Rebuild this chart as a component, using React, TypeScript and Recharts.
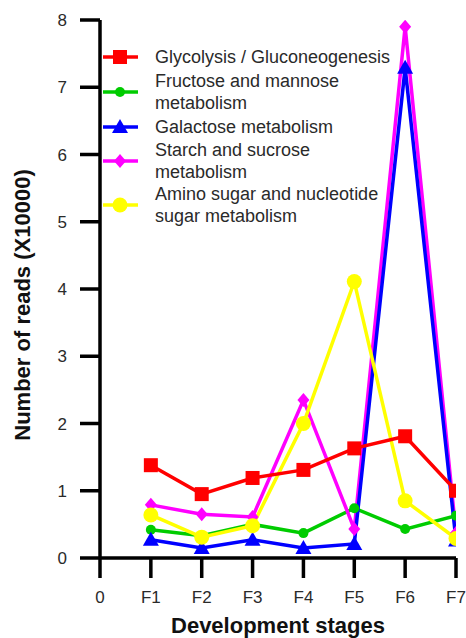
import React from 'react';
import { LineChart, Line, XAxis, YAxis, Legend, Label } from 'recharts';

const stages = [1, 2, 3, 4, 5, 6, 7];
const tickLabels = ['0', 'F1', 'F2', 'F3', 'F4', 'F5', 'F6', 'F7'];
const yTicks = [0, 1, 2, 3, 4, 5, 6, 7, 8];

const glycolysis = [1.38, 0.95, 1.19, 1.31, 1.63, 1.81, 1.0];
const fructose = [0.42, 0.33, 0.5, 0.37, 0.74, 0.43, 0.63];
const galactose = [0.27, 0.15, 0.27, 0.15, 0.21, 7.29, 0.26];
const starch = [0.79, 0.65, 0.61, 2.35, 0.43, 7.9, 0.37];
const aminoSugar = [0.64, 0.31, 0.48, 2.0, 4.11, 0.85, 0.29];

const data = stages.map((s, i) => ({
  stage: s,
  glycolysis: glycolysis[i],
  fructose: fructose[i],
  galactose: galactose[i],
  starch: starch[i],
  aminoSugar: aminoSugar[i],
}));

const FONT = '"Liberation Sans", Arial, sans-serif';

type Shape = 'square' | 'smallCircle' | 'triangle' | 'diamond' | 'bigCircle';

const Marker = ({ cx, cy, shape, color }: { cx: number; cy: number; shape: Shape; color: string }) => {
  if (shape === 'square') return <rect x={cx - 7} y={cy - 7} width={14} height={14} fill={color} />;
  if (shape === 'smallCircle') return <circle cx={cx} cy={cy} r={5} fill={color} />;
  if (shape === 'bigCircle') return <circle cx={cx} cy={cy} r={7.5} fill={color} />;
  if (shape === 'triangle')
    return <polygon points={`${cx},${cy - 8} ${cx + 8},${cy + 6} ${cx - 8},${cy + 6}`} fill={color} />;
  return <polygon points={`${cx},${cy - 7} ${cx + 6},${cy} ${cx},${cy + 7} ${cx - 6},${cy}`} fill={color} />;
};

const dotFor = (shape: Shape, color: string) => (props: any) => (
  <Marker key={`${shape}-${props.index}`} cx={props.cx} cy={props.cy} shape={shape} color={color} />
);

const legendItems = [
  { lines: ['Glycolysis / Gluconeogenesis'], shape: 'square' as Shape, color: '#ff0000', top: 1 },
  { lines: ['Fructose and mannose', 'metabolism'], shape: 'smallCircle' as Shape, color: '#00cc00', top: 25 },
  { lines: ['Galactose metabolism'], shape: 'triangle' as Shape, color: '#0000ff', top: 71 },
  { lines: ['Starch and sucrose', 'metabolism'], shape: 'diamond' as Shape, color: '#ff00ff', top: 94 },
  { lines: ['Amino sugar and nucleotide', 'sugar metabolism'], shape: 'bigCircle' as Shape, color: '#ffff00', top: 138 },
];

const CustomLegend = () => (
  <div style={{ position: 'relative', width: 320, height: 185, fontFamily: FONT }}>
    {legendItems.map((item) => {
      const h = item.lines.length * 22;
      return (
        <div key={item.lines[0]} style={{ position: 'absolute', left: 0, top: item.top, height: h, width: 320 }}>
          <svg width={40} height={h} style={{ position: 'absolute', left: 0, top: 0 }}>
            <line x1={3} x2={38} y1={h / 2} y2={h / 2} stroke={item.color} strokeWidth={3.5} />
            <Marker cx={20} cy={h / 2} shape={item.shape} color={item.color} />
          </svg>
          <div style={{ position: 'absolute', left: 55, top: 0, fontSize: 18, color: '#2a2a2a', whiteSpace: 'nowrap' }}>
            {item.lines.map((l, i) => (
              <div key={l} style={{ lineHeight: '17px', height: 17, marginTop: i === 0 ? 2.5 : 5 }}>{l}</div>
            ))}
          </div>
        </div>
      );
    })}
  </div>
);

const YTitle = (props: any) => {
  const vb = props.viewBox;
  const x = vb.x - 18;
  const y = vb.y + vb.height / 2 + 16;
  return (
    <text x={x} y={y} transform={`rotate(-90, ${x}, ${y})`} textAnchor="middle" dominantBaseline="central"
      fontFamily={FONT} fontWeight="bold" fontSize={22} fill="#111">
      Number of reads (X10000)
    </text>
  );
};

export default function App() {
  return (
    <div style={{ position: 'absolute', left: 0, top: 0, background: '#fff' }}>
      <LineChart width={466} height={638} data={data} margin={{ top: 20, right: 10, bottom: 30, left: 40 }}>
        <XAxis
          dataKey="stage"
          type="number"
          domain={[0, 7]}
          ticks={[0, 1, 2, 3, 4, 5, 6, 7]}
          tickFormatter={(v: number) => tickLabels[v]}
          height={50}
          tickSize={20}
          tickMargin={13}
          axisLine={{ stroke: '#000', strokeWidth: 3.5 }}
          tickLine={{ stroke: '#000', strokeWidth: 3.5 }}
          tick={{ fill: '#2a2a2a', fontSize: 17, fontFamily: FONT }}
          allowDataOverflow
        >
          <Label value="Development stages" position="insideBottom" offset={-25}
            style={{ fontFamily: FONT, fontWeight: 'bold', fontSize: 22, fill: '#111' }} />
        </XAxis>
        <YAxis
          domain={[0, 8]}
          ticks={yTicks}
          width={60}
          tickSize={20}
          tickMargin={13}
          axisLine={{ stroke: '#000', strokeWidth: 3.5 }}
          tickLine={{ stroke: '#000', strokeWidth: 3.5 }}
          tick={{ fill: '#2a2a2a', fontSize: 17, fontFamily: FONT }}
          allowDataOverflow
        >
          <Label content={<YTitle />} />
        </YAxis>
        <Legend
          layout="vertical"
          align="center"
          verticalAlign="middle"
          content={<CustomLegend />}
          wrapperStyle={{ left: 100, top: 45, width: 320, height: 185 }}
        />
        <Line dataKey="fructose" stroke="#00cc00" strokeWidth={3.5} dot={dotFor('smallCircle', '#00cc00')} isAnimationActive={false} />
        <Line dataKey="starch" stroke="#ff00ff" strokeWidth={3.5} dot={dotFor('diamond', '#ff00ff')} isAnimationActive={false} />
        <Line dataKey="galactose" stroke="#0000ff" strokeWidth={3.5} dot={dotFor('triangle', '#0000ff')} isAnimationActive={false} />
        <Line dataKey="aminoSugar" stroke="#ffff00" strokeWidth={3.5} dot={dotFor('bigCircle', '#ffff00')} isAnimationActive={false} />
        <Line dataKey="glycolysis" stroke="#ff0000" strokeWidth={3.5} dot={dotFor('square', '#ff0000')} isAnimationActive={false} />
      </LineChart>
    </div>
  );
}
